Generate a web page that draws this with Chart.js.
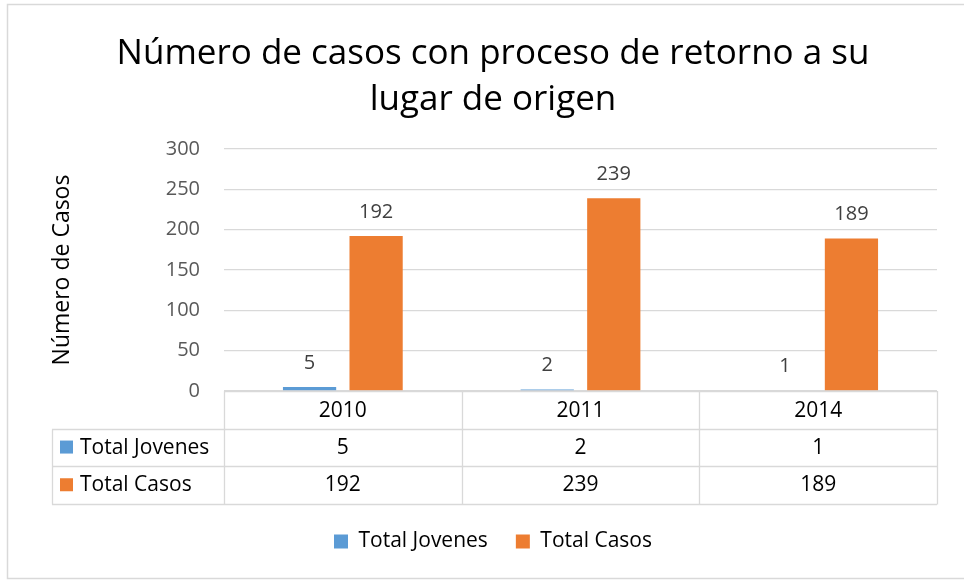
<!DOCTYPE html>
<html>
<head>
<meta charset="utf-8">
<script src="https://cdn.jsdelivr.net/npm/chart.js@4"></script>
<style>
  html, body { margin: 0; padding: 0; background: #fff; }
  #wrap { width: 964px; height: 580px; }
</style>
</head>
<body>
<div id="wrap"><canvas id="casosChart" width="964" height="580"></canvas></div>
<script>
// --- datos del gráfico ---
const years = ['2010', '2011', '2014'];
const totalJovenes = [5, 2, 1];
const totalCasos = [192, 239, 189];
const yTicks = [0, 50, 100, 150, 200, 250, 300];

const FONT = "'Open Sans', 'Noto Sans', sans-serif";
const BLUE = '#5B9BD5';
const ORANGE = '#ED7D31';
const LINE = '#d9d9d9';

// etiquetas de datos encima de cada barra
const barLabels = {
    id: 'barLabels',
    afterDatasetsDraw(chart) {
        const ctx = chart.ctx;
        ctx.save();
        ctx.font = '20px ' + FONT;
        ctx.fillStyle = '#404040';
        ctx.textAlign = 'center';
        ctx.textBaseline = 'middle';
        chart.data.datasets.forEach((ds, di) => {
            chart.getDatasetMeta(di).data.forEach((bar, i) => {
                ctx.fillText(String(ds.data[i]), bar.x, bar.y - 24);
            });
        });
        ctx.restore();
    }
};

// tabla de datos bajo el eje X + marco exterior
const dataTable = {
    id: 'dataTable',
    afterDraw(chart) {
        const ctx = chart.ctx;
        const x = chart.scales.x;
        const area = chart.chartArea;
        const rowH = 37.7;
        const top = area.bottom;
        const half = (x.getPixelForValue(1) - x.getPixelForValue(0)) / 2;
        const left = x.getPixelForValue(0) - half;
        const right = x.getPixelForValue(years.length - 1) + half;
        const labelLeft = 52;
        const rows = [
            { name: 'Total Jovenes', color: BLUE, values: totalJovenes },
            { name: 'Total Casos', color: ORANGE, values: totalCasos }
        ];

        ctx.save();
        ctx.strokeStyle = LINE;
        ctx.lineWidth = 1.3;
        ctx.beginPath();
        // líneas horizontales
        ctx.moveTo(left, top + 0.5); ctx.lineTo(right, top + 0.5);
        for (let r = 1; r <= rows.length + 1; r++) {
            const yy = Math.round(top + rowH * r) + 0.5;
            ctx.moveTo(labelLeft, yy); ctx.lineTo(right, yy);
        }
        const bottom = Math.round(top + rowH * (rows.length + 1)) + 0.5;
        // líneas verticales
        for (let i = 0; i <= years.length; i++) {
            const xx = Math.round(left + half * 2 * i) + 0.5;
            ctx.moveTo(xx, top); ctx.lineTo(xx, bottom);
        }
        ctx.moveTo(labelLeft + 0.5, Math.round(top + rowH) + 0.5);
        ctx.lineTo(labelLeft + 0.5, bottom);
        ctx.stroke();

        // contenido
        ctx.font = '21px ' + FONT;
        ctx.textBaseline = 'middle';
        rows.forEach((row, r) => {
            const cy = top + rowH * (r + 1) + rowH / 2;
            ctx.fillStyle = row.color;
            ctx.fillRect(60, cy - 7, 13, 13);
            ctx.fillStyle = '#000';
            ctx.textAlign = 'left';
            ctx.fillText(row.name, 80, cy);
            ctx.textAlign = 'center';
            row.values.forEach((v, i) => {
                ctx.fillText(String(v), x.getPixelForValue(i), cy);
            });
        });

        // marco del gráfico
        ctx.strokeStyle = '#d9d9d9';
        ctx.lineWidth = 1.5;
        ctx.strokeRect(7.5, 4.5, 970, 574);
        ctx.restore();
    }
};

new Chart(document.getElementById('casosChart'), {
    type: 'bar',
    data: {
        labels: years,
        datasets: [
            { label: 'Total Jovenes', data: totalJovenes, backgroundColor: BLUE },
            { label: 'Total Casos', data: totalCasos, backgroundColor: ORANGE }
        ]
    },
    options: {
        responsive: false,
        animation: false,
        categoryPercentage: 0.56,
        barPercentage: 0.8,
        layout: { padding: { left: 49, right: 27, top: 0, bottom: 18 } },
        plugins: {
            title: {
                display: true,
                text: ['Número de casos con proceso de retorno a su', 'lugar de origen'],
                color: '#000',
                font: { family: FONT, size: 35, weight: 'normal', lineHeight: 46 / 35 },
                padding: { top: 31, bottom: 26 }
            },
            legend: {
                position: 'bottom',
                labels: {
                    color: '#000',
                    font: { family: FONT, size: 21 },
                    boxWidth: 14,
                    boxHeight: 14,
                    padding: 28
                }
            },
            tooltip: { enabled: false }
        },
        scales: {
            x: {
                grid: { display: false, drawTicks: false },
                border: { display: false },
                ticks: { color: '#000', font: { family: FONT, size: 21 }, padding: 7 },
                afterFit(s) { s.height = 112; }
            },
            y: {
                min: 0,
                max: 300,
                afterBuildTicks(s) { s.ticks = yTicks.map(v => ({ value: v })); },
                grid: { color: LINE, lineWidth: 1.3, drawTicks: false },
                border: { display: false },
                ticks: { color: '#595959', font: { family: FONT, size: 20 }, padding: 24 },
                title: {
                    display: true,
                    text: 'Número de Casos',
                    color: '#000',
                    font: { family: FONT, size: 23 },
                    padding: { top: 0, bottom: 0 }
                },
                afterFit(s) { s.width = 224 - 49; }
            }
        }
    },
    plugins: [barLabels, dataTable]
});
</script>
</body>
</html>
